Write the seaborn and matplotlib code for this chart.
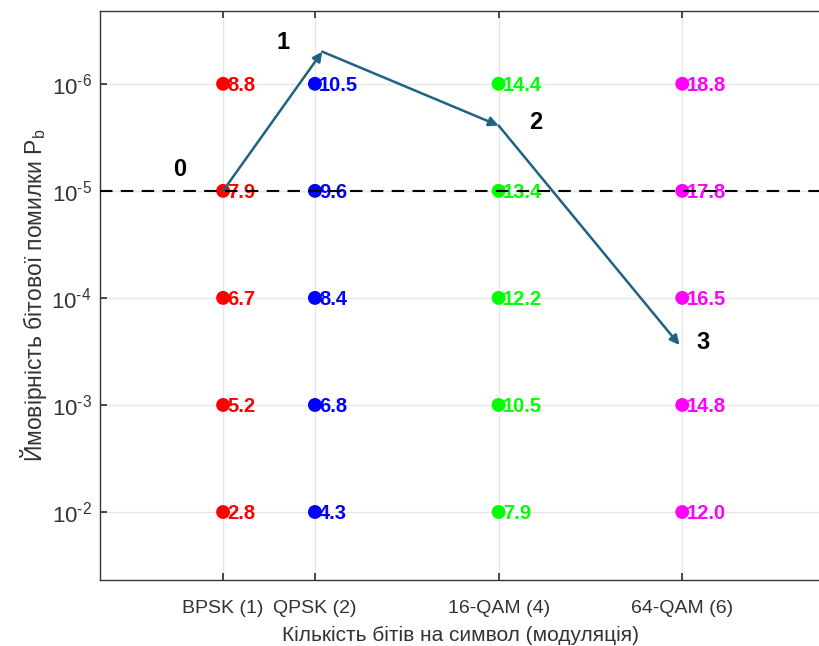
import numpy as np
import pandas as pd
import matplotlib
matplotlib.use("Agg")
import matplotlib.pyplot as plt
import seaborn as sns

# modulation schemes and bits per symbol
modulations = ["BPSK (1)", "QPSK (2)", "16-QAM (4)", "64-QAM (6)"]
bits = [1, 2, 4, 6]
colors = ["#ff0000", "#0000ff", "#00ff00", "#ff00ff"]

# target bit error probabilities
pb_levels = [1e-6, 1e-5, 1e-4, 1e-3, 1e-2]
pb_ticklabels = [r"$10^{\text{-}6}$", r"$10^{\text{-}5}$", r"$10^{\text{-}4}$",
                 r"$10^{\text{-}3}$", r"$10^{\text{-}2}$"]

# required Eb/N0 (dB) for each modulation at each Pb level
ebn0_bpsk = [8.8, 7.9, 6.7, 5.2, 2.8]
ebn0_qpsk = [10.5, 9.6, 8.4, 6.8, 4.3]
ebn0_16qam = [14.4, 13.4, 12.2, 10.5, 7.9]
ebn0_64qam = [18.8, 17.8, 16.5, 14.8, 12.0]

# adaptation path (arrows) and step labels
path_x = [1.0, 2.08, 4.0, 5.97]
path_y = [1e-5, 10 ** -6.3, 10 ** -5.61, 10 ** -3.56]
step_labels = ["0", "1", "2", "3"]
step_label_x = [0.53, 1.65, 4.4, 6.23]
step_label_y = [10 ** -5.2, 10 ** -6.39, 10 ** -5.64, 10 ** -3.58]

threshold = 1e-5

rows = []
for mod, b, vals in zip(modulations, bits,
                        [ebn0_bpsk, ebn0_qpsk, ebn0_16qam, ebn0_64qam]):
    for pb, v in zip(pb_levels, vals):
        rows.append({"mod": mod, "bits": b, "pb": pb, "ebn0": v})
df = pd.DataFrame(rows)

sns.set_theme(style="white")
plt.rcParams["font.family"] = ["Liberation Sans", "DejaVu Sans"]
plt.rcParams["mathtext.fontset"] = "custom"
plt.rcParams["mathtext.rm"] = "Liberation Sans"

fig = plt.figure(figsize=(8.2, 6.46), dpi=100)
ax = fig.add_axes([0.122, 0.102, 0.878, 0.881])

sns.scatterplot(data=df, x="bits", y="pb", hue="mod", palette=colors,
                hue_order=modulations, s=100, edgecolor="none",
                legend=False, ax=ax, zorder=3)

col_map = dict(zip(modulations, colors))
for _, r in df.iterrows():
    ax.annotate(f"{r['ebn0']:.1f}", (r["bits"], r["pb"]), xytext=(3, -1),
                textcoords="offset points", ha="left", va="center",
                color=col_map[r["mod"]], fontsize=14.5, fontweight="bold",
                zorder=4)

ax.axhline(threshold, color="black", ls=(0, (6, 4)), lw=1.5, zorder=5)

arrow_col = "#1f6283"
for i in range(len(path_x) - 1):
    ax.annotate("", xy=(path_x[i + 1], path_y[i + 1]),
                xytext=(path_x[i], path_y[i]),
                arrowprops=dict(arrowstyle="-|>", color=arrow_col, lw=1.8,
                                mutation_scale=14, shrinkA=0, shrinkB=0),
                zorder=6)

for t, x, y in zip(step_labels, step_label_x, step_label_y):
    ax.text(x, y, t, fontsize=17, fontweight="bold", color="black",
            ha="center", va="center", zorder=7)

ax.set_yscale("log")
ax.set_xlim(-0.34, 7.5)
ax.set_ylim(10 ** -1.364, 10 ** -6.68)
ax.set_yticks(pb_levels)
ax.set_yticklabels(pb_ticklabels)
ax.minorticks_off()
ax.set_xticks(bits)
ax.set_xticklabels(modulations)

ax.grid(True, color="#e6e6e6", lw=1.0, zorder=0)
ax.set_axisbelow(True)
for s in ["left", "bottom", "top"]:
    ax.spines[s].set_color("#333333")
    ax.spines[s].set_linewidth(1.0)
ax.spines["right"].set_visible(False)
ax.tick_params(axis="both", direction="in", length=5, colors="#333333",
               top=True, left=True, bottom=True, labelcolor="#333333")
ax.tick_params(axis="x", pad=14, labelsize=14)
ax.tick_params(axis="y", pad=6, labelsize=16)

ax.set_xlabel("Кількість бітів на символ (модуляція)", fontsize=15,
              color="#333333", labelpad=7)
ax.set_ylabel(r"Ймовірність бітової помилки P$_\mathrm{b}$", fontsize=16.5,
              color="#333333", labelpad=2)

fig.savefig("out.png", dpi=100)
